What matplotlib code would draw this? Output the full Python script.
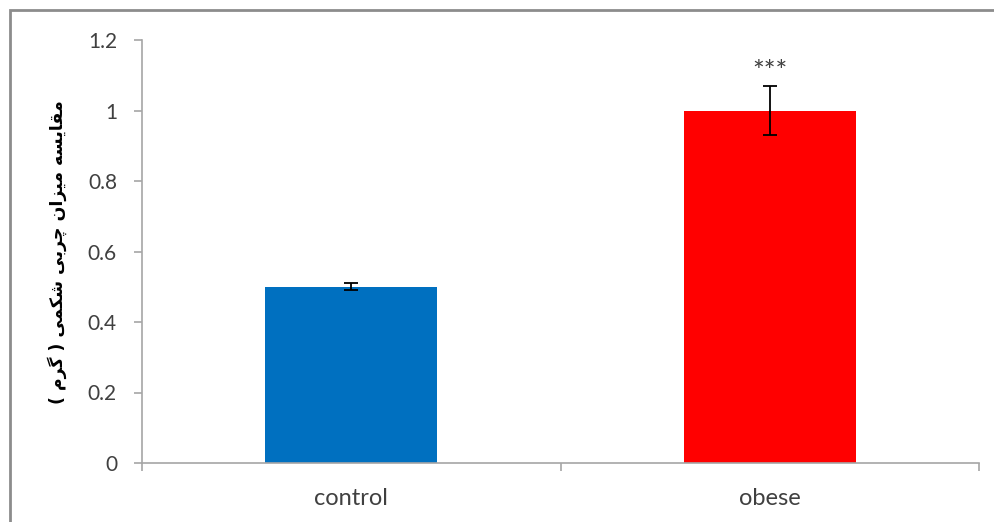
import matplotlib
matplotlib.use("Agg")
import matplotlib.pyplot as plt
from matplotlib.patches import Rectangle

categories = ["control", "obese"]
means = [0.50, 1.00]
errors = [0.01, 0.07]
bar_colors = ["#0070C0", "#FF0000"]
significance = ["", "***"]
yticks = [0, 0.2, 0.4, 0.6, 0.8, 1.0, 1.2]
ytick_labels = ["0", "0.2", "0.4", "0.6", "0.8", "1", "1.2"]

# Persian axis title, written with presentation forms and laid out in visual
# order because matplotlib has no Arabic shaping or bidi support.
# Logical text: "مقایسه میزان چربی شکمی ( گرم )"
logical_forms = (
    "\uFEE3\uFED8\uFE8E\uFBFE\uFEB4\uFEEA" + " " +   # مقایسه
    "\uFEE3\uFBFF\uFEB0\uFE8D\uFEE5" + " " +         # میزان
    "\uFB7C\uFEAE\uFE91\uFBFD" + " " +               # چربی
    "\uFEB7\uFB91\uFEE4\uFBFD" + " ( " +             # شکمی
    "\uFB94\uFEAE\uFEE1" + " )"                      # گرم
)
mirror = {"(": ")", ")": "("}
ylabel_text = "".join(mirror.get(c, c) for c in reversed(logical_forms))

text_color = "#404040"
axis_color = "#A6A6A6"

fig = plt.figure(figsize=(9.94, 5.22), dpi=100)

# chart frame
fig.patches.append(Rectangle((10 / 994, -0.05), 1.2, 1 - 10 / 522 + 0.05,
                             transform=fig.transFigure, fill=False,
                             edgecolor="#8C8C8C", linewidth=2.0, zorder=0))

ax = fig.add_axes([142 / 994, 1 - 463 / 522, (979 - 142) / 994, (463 - 40) / 522])

x = list(range(len(categories)))
ax.bar(x, means, width=0.41, color=bar_colors, zorder=2)
ax.errorbar(x, means, yerr=errors, fmt="none", ecolor="black",
            elinewidth=1.3, capsize=5, capthick=1.3, zorder=3)
for xi, m, e, s in zip(x, means, errors, significance):
    if s:
        ax.text(xi, m + e + 0.0, s, ha="center", va="bottom",
                fontsize=20, color=text_color, family="Lato")

ax.set_xlim(-0.5, 1.5)
ax.set_ylim(0, 1.2)
ax.set_yticks(yticks)
ax.set_yticklabels(ytick_labels)
ax.set_xticks(x)
ax.set_xticklabels(categories)

# category separators as tick marks on the x axis
ax.set_xticks([-0.5, 0.5, 1.5], minor=True)
ax.tick_params(axis="x", which="major", length=0, pad=18)
ax.tick_params(axis="x", which="minor", length=6, color=axis_color, width=1.2)
ax.tick_params(axis="y", length=6, color=axis_color, width=1.2, pad=12)

for lab in ax.get_yticklabels():
    lab.set_fontfamily("Lato")
    lab.set_fontsize(15)
    lab.set_color(text_color)
for lab in ax.get_xticklabels():
    lab.set_fontfamily("Lato")
    lab.set_fontsize(17)
    lab.set_color(text_color)

for side in ["top", "right"]:
    ax.spines[side].set_visible(False)
for side in ["left", "bottom"]:
    ax.spines[side].set_color(axis_color)
    ax.spines[side].set_linewidth(1.2)

fig.text(57 / 994, 1 - 252 / 522, ylabel_text, rotation=90, ha="center",
         va="center", fontsize=12.5, fontweight="bold", color="black",
         family=["DejaVu Sans"])

fig.savefig("out.png", dpi=100)
